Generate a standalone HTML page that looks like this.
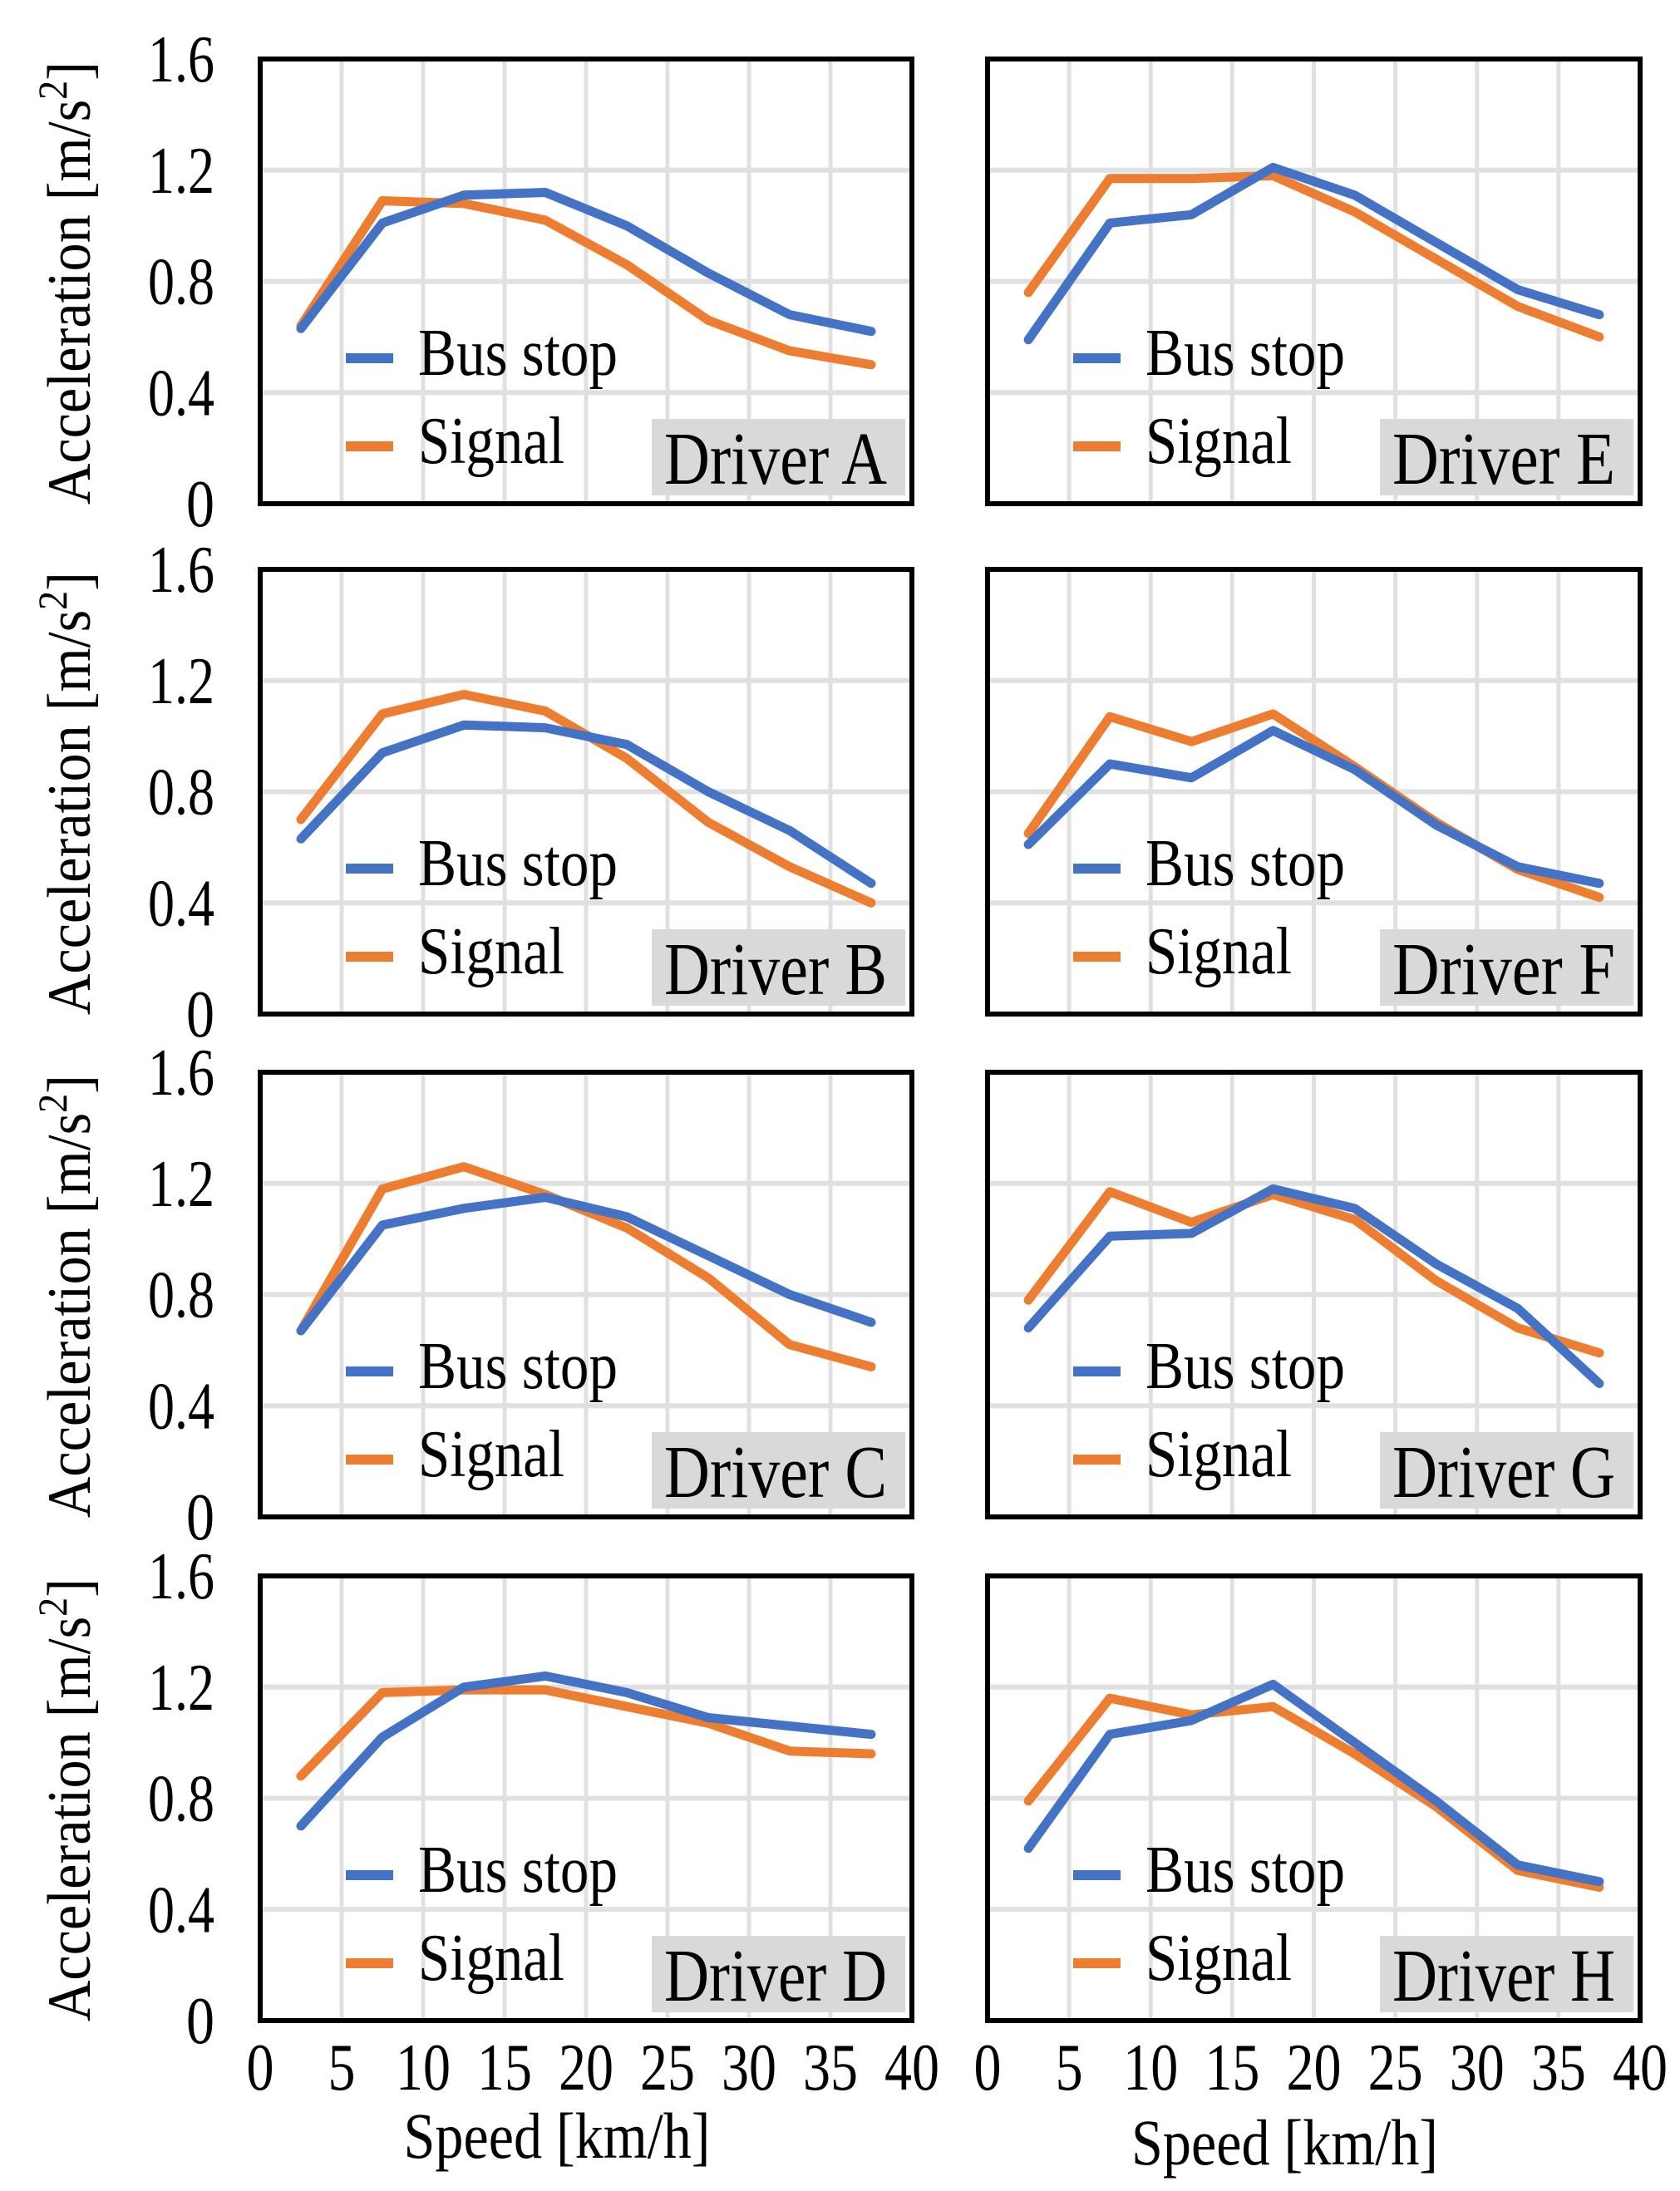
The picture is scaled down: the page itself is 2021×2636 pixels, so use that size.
<!DOCTYPE html>
<html><head><meta charset="utf-8">
<style>
html,body{margin:0;padding:0;background:#fff;}
svg{display:block;font-family:"Liberation Serif",serif;}
</style></head>
<body>
<svg id="fig" width="2021" height="2636" viewBox="0 0 2021 2636" xmlns="http://www.w3.org/2000/svg"></svg>
<script>
const speeds = [2.5, 7.5, 12.5, 17.5, 22.5, 27.5, 32.5, 37.5];
const xTicks = [0, 5, 10, 15, 20, 25, 30, 35, 40];
const yTicks = [0, 0.4, 0.8, 1.2, 1.6];
const driverNames = ["A", "E", "B", "F", "C", "G", "D", "H"];
const busA = [0.63, 1.01, 1.11, 1.12, 1.00, 0.83, 0.68, 0.62];
const sigA = [0.64, 1.09, 1.08, 1.02, 0.86, 0.66, 0.55, 0.50];
const busE = [0.59, 1.01, 1.04, 1.21, 1.11, 0.94, 0.77, 0.68];
const sigE = [0.76, 1.17, 1.17, 1.18, 1.05, 0.88, 0.71, 0.60];
const busB = [0.63, 0.94, 1.04, 1.03, 0.97, 0.80, 0.66, 0.47];
const sigB = [0.70, 1.08, 1.15, 1.09, 0.92, 0.69, 0.53, 0.40];
const busF = [0.61, 0.90, 0.85, 1.02, 0.88, 0.68, 0.53, 0.47];
const sigF = [0.65, 1.07, 0.98, 1.08, 0.89, 0.69, 0.52, 0.42];
const busC = [0.67, 1.05, 1.11, 1.15, 1.08, 0.94, 0.80, 0.70];
const sigC = [0.67, 1.18, 1.26, 1.16, 1.04, 0.86, 0.62, 0.54];
const busG = [0.68, 1.01, 1.02, 1.18, 1.11, 0.91, 0.75, 0.48];
const sigG = [0.78, 1.17, 1.06, 1.16, 1.07, 0.85, 0.68, 0.59];
const busD = [0.70, 1.02, 1.20, 1.24, 1.18, 1.09, 1.06, 1.03];
const sigD = [0.88, 1.18, 1.19, 1.19, 1.13, 1.07, 0.97, 0.96];
const busH = [0.62, 1.03, 1.08, 1.21, 1.00, 0.79, 0.56, 0.50];
const sigH = [0.79, 1.16, 1.10, 1.13, 0.96, 0.77, 0.54, 0.48];
const busSeries = [busA, busE, busB, busF, busC, busG, busD, busH];
const sigSeries = [sigA, sigE, sigB, sigF, sigC, sigG, sigD, sigH];

const NS = "http://www.w3.org/2000/svg";
const svg = document.getElementById("fig");
function mk(tag, attrs, parent, text){
  const e = document.createElementNS(NS, tag);
  for (const k in attrs) e.setAttribute(k, attrs[k]);
  if (text !== undefined) e.textContent = text;
  (parent || svg).appendChild(e);
  return e;
}
const colL = [313, 1097], colR = [1188, 1973];
const rowTops = [71, 685, 1290, 1896];
const plotH = 535;

for (let i = 0; i < 8; i++){
  const col = i % 2, row = Math.floor(i / 2);
  const [x0, x1] = col === 0 ? colL : colR;
  const top = rowTops[row], bot = top + plotH;
  const sx = v => x0 + (v / 40) * (x1 - x0);
  const sy = v => bot - (v / 1.6) * plotH;
  const g = mk("g", {});
  
  
  for (let t = 5; t < 40; t += 5){
    const l = mk("line", {x1: sx(t), x2: sx(t), y1: top, y2: bot, stroke: "#e0e0e0", "stroke-width": 5}, g);
    
    
  }
  for (const t of [0.4, 0.8, 1.2]){
    const l = mk("line", {x1: x0, x2: x1, y1: sy(t), y2: sy(t), stroke: "#e0e0e0", "stroke-width": 6}, g);
    
    
  }
  const lb = mk("rect", {x: x1 - 313, y: top + 433, width: 305, height: 92, fill: "#d9d9d9"}, g);
  
  
  const lt = mk("text", {x: x1 - 164, y: top + 511, "font-size": 90, "text-anchor": "middle", textLength: 268, lengthAdjust: "spacingAndGlyphs", fill: "#000"}, g, "Driver " + driverNames[i]);
  
  
  const lg = mk("g", {}, g);
  
  
  const l1 = mk("line", {x1: x0 + 103, x2: x0 + 160, y1: top + 360, y2: top + 360, stroke: "#4472c4", "stroke-width": 12}, lg);
  
  
  const t1 = mk("text", {x: x0 + 190, y: top + 380, "font-size": 80, textLength: 240, lengthAdjust: "spacingAndGlyphs"}, lg, "Bus stop");
  
  
  const l2 = mk("line", {x1: x0 + 103, x2: x0 + 160, y1: top + 466, y2: top + 466, stroke: "#ed7d31", "stroke-width": 12}, lg);
  
  
  const t2 = mk("text", {x: x0 + 190, y: top + 486, "font-size": 80, textLength: 176, lengthAdjust: "spacingAndGlyphs"}, lg, "Signal");
  
  
  const mkLine = (arr, color, name) => {
    const pts = arr.map((v, k) => sx(speeds[k]).toFixed(1) + "," + sy(v).toFixed(1)).join(" ");
    const p = mk("polyline", {points: pts, fill: "none", stroke: color, "stroke-width": 11, "stroke-linejoin": "round", "stroke-linecap": "round"}, g);
    
    
  };
  mkLine(sigSeries[i], "#ed7d31", 'signal-line');
  mkLine(busSeries[i], "#4472c4", 'bus-stop-line');
  const b = mk("rect", {x: x0, y: top, width: x1 - x0, height: plotH, fill: "none", stroke: "#000", "stroke-width": 6}, g);
  
  
  if (col === 0){
    for (const t of yTicks){
      const s = String(t);
      const yt = mk("text", {x: 258, y: sy(t) + 27, "font-size": 80, "text-anchor": "end", textLength: s.length === 1 ? 34 : 80, lengthAdjust: "spacingAndGlyphs"}, g, s);
      
      
    }
    const yt = mk("text", {x: 0, y: 0, "font-size": 74, "text-anchor": "middle", transform: `translate(108,${top + plotH/2 + 2}) rotate(-90)`, textLength: 533, lengthAdjust: "spacingAndGlyphs"}, g);
    
    
    mk("tspan", {}, yt, "Acceleration [m/s");
    mk("tspan", {dy: -28, "font-size": 50}, yt, "2");
    mk("tspan", {dy: 28}, yt, "]");
  }
  if (row === 3){
    for (const t of xTicks){
      const s = String(t);
      const xt = mk("text", {x: sx(t), y: 2514, "font-size": 80, "text-anchor": "middle", textLength: 33 * s.length, lengthAdjust: "spacingAndGlyphs"}, g, s);
      
      
    }
    const xtt = mk("text", {x: (x0 + x1)/2 - 35, y: col ? 2604 : 2596, "font-size": 78, "text-anchor": "middle", textLength: 369, lengthAdjust: "spacingAndGlyphs"}, g, "Speed [km/h]");
    
    
  }
}
</script>
</body></html>
